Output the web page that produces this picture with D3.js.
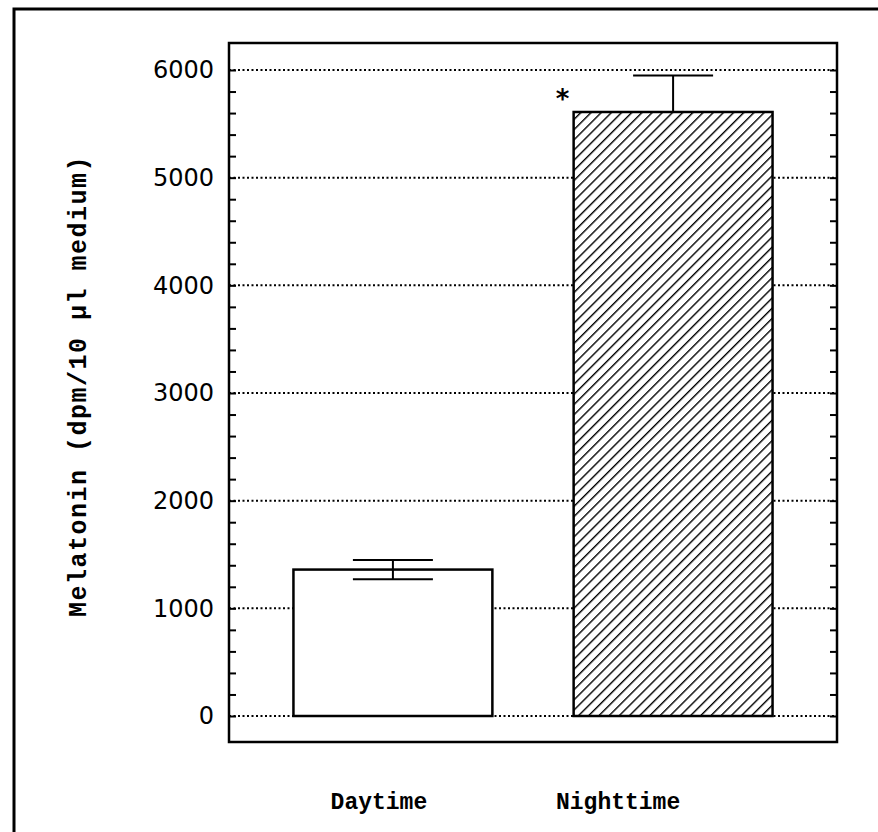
<!DOCTYPE html>
<html>
<head>
<meta charset="utf-8">
<script src="https://cdn.jsdelivr.net/npm/d3@7"></script>
<style>
  html, body { margin: 0; padding: 0; background: #fff; }
  svg { display: block; }
</style>
</head>
<body>
<svg id="chart" width="878" height="832"></svg>
<script>
// ---- data ----
const categories = ["Daytime", "Nighttime"];
const values = [1360, 5610];
const errors = [90, 340];
const significance = ["", "*"];
const yTicks = [0, 1000, 2000, 3000, 4000, 5000, 6000];
const yMinorStep = 200;
const yTitle = "Melatonin (dpm/10 \u03bcl medium)";

// ---- layout ----
const W = 878, H = 832;
const plot = { left: 229, right: 837, top: 43, bottom: 742 };
const svg = d3.select("#chart");

const x = d3.scaleBand().domain(categories)
  .range([plot.left, plot.right]).paddingInner(0.29).paddingOuter(0.23);
const y = d3.scaleLinear().domain([0, 6000]).range([716, 70]);

// hatch pattern (///)
const defs = svg.append("defs");
const pat = defs.append("pattern").attr("id", "hatch")
  .attr("patternUnits", "userSpaceOnUse").attr("width", 7.2).attr("height", 10)
  .attr("patternTransform", "rotate(45)");
pat.append("rect").attr("width", 7.2).attr("height", 10).attr("fill", "#fff");
pat.append("line").attr("x1", 0).attr("y1", 0).attr("x2", 0).attr("y2", 10)
  .attr("stroke", "#000").attr("stroke-width", 2.8);

// outer frame (cropped on right and bottom)
svg.append("path").attr("d", `M14,${H} L14,9 L${W},9`)
  .attr("fill", "none").attr("stroke", "#000").attr("stroke-width", 3);

// gridlines
svg.append("g").selectAll("line").data(yTicks).join("line")
  .attr("x1", plot.left).attr("x2", plot.right)
  .attr("y1", d => y(d)).attr("y2", d => y(d))
  .attr("stroke", "#000").attr("stroke-width", 2)
  .attr("stroke-dasharray", "2,2.5");

// minor ticks (left inward, right inward) via axes
const minorTicks = d3.range(0, 6000 + 1, yMinorStep);
svg.append("g").attr("transform", `translate(${plot.left},0)`)
  .call(d3.axisRight(y).tickValues(minorTicks).tickSize(7).tickFormat(""))
  .call(g => g.select(".domain").remove())
  .selectAll("line").attr("stroke", "#000").attr("stroke-width", 2);
svg.append("g").attr("transform", `translate(${plot.right},0)`)
  .call(d3.axisLeft(y).tickValues(minorTicks).tickSize(7).tickFormat(""))
  .call(g => g.select(".domain").remove())
  .selectAll("line").attr("stroke", "#000").attr("stroke-width", 2);

// tick labels
svg.append("g").attr("transform", `translate(${plot.left},0)`)
  .call(d3.axisLeft(y).tickValues(yTicks).tickSize(0).tickPadding(15).tickFormat(d3.format("d")))
  .call(g => g.select(".domain").remove())
  .selectAll("text")
  .attr("font-family", "'DejaVu Sans', sans-serif").attr("font-size", 24)
  .attr("fill", "#000");

// bars
const data = categories.map((c, i) => ({ c, v: values[i], e: errors[i], s: significance[i], i }));
svg.append("g").selectAll("rect").data(data).join("rect")
  .attr("x", d => x(d.c)).attr("width", x.bandwidth())
  .attr("y", d => y(d.v)).attr("height", d => y(0) - y(d.v))
  .attr("fill", d => d.i === 1 ? "url(#hatch)" : "#fff")
  .attr("stroke", "#000").attr("stroke-width", 2.5);

// error bars
const capHalf = 40;
const eg = svg.append("g").attr("stroke", "#000").attr("stroke-width", 2);
data.forEach(d => {
  const cx = x(d.c) + x.bandwidth() / 2;
  const showLower = d.i === 0;
  eg.append("line").attr("x1", cx).attr("x2", cx)
    .attr("y1", y(d.v + d.e)).attr("y2", showLower ? y(d.v - d.e) : y(d.v));
  eg.append("line").attr("x1", cx - capHalf).attr("x2", cx + capHalf)
    .attr("y1", y(d.v + d.e)).attr("y2", y(d.v + d.e));
  if (showLower) {
    eg.append("line").attr("x1", cx - capHalf).attr("x2", cx + capHalf)
      .attr("y1", y(d.v - d.e)).attr("y2", y(d.v - d.e));
  }
});

// significance marker
svg.append("g").selectAll("text").data(data.filter(d => d.s)).join("text")
  .attr("x", d => x(d.c) - 11).attr("y", d => y(d.v + d.e) + 33)
  .attr("text-anchor", "middle")
  .attr("font-family", "'DejaVu Sans', sans-serif").attr("font-weight", "bold")
  .attr("font-size", 26).text(d => d.s);

// plot frame
svg.append("rect").attr("x", plot.left).attr("y", plot.top)
  .attr("width", plot.right - plot.left).attr("height", plot.bottom - plot.top)
  .attr("fill", "none").attr("stroke", "#000").attr("stroke-width", 2.5);

// x category labels
const labelOffsets = [-14, -55];
svg.append("g").selectAll("text").data(data).join("text")
  .attr("x", d => x(d.c) + x.bandwidth() / 2 + labelOffsets[d.i])
  .attr("y", 809)
  .attr("text-anchor", "middle")
  .attr("font-family", "'Liberation Mono', 'Courier New', monospace")
  .attr("font-weight", "bold").attr("font-size", 23)
  .text(d => d.c);

// y title
svg.append("text")
  .attr("transform", "translate(86,386) rotate(-90)")
  .attr("text-anchor", "middle")
  .attr("font-family", "'Liberation Mono', 'Courier New', monospace")
  .attr("font-weight", "bold").attr("font-size", 25)
  .attr("letter-spacing", 1.5)
  .text(yTitle);
</script>
</body>
</html>
